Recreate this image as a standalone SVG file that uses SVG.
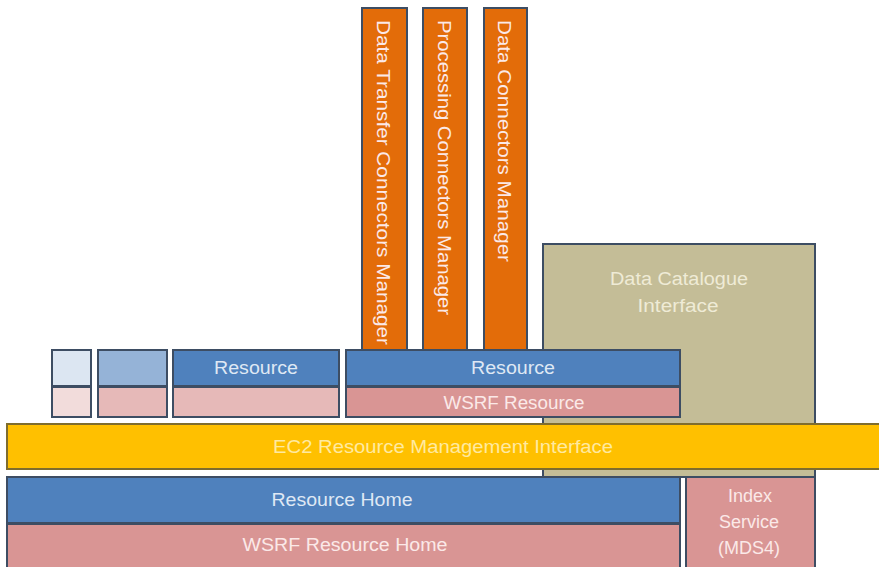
<svg xmlns="http://www.w3.org/2000/svg" width="879" height="567" viewBox="0 0 879 567">
<style>
.b{stroke:#3d4d63;stroke-width:2}
.t{font-family:"Liberation Sans",Arial,sans-serif;font-size:18px;fill:#dfe8f4;text-anchor:middle;dominant-baseline:central}
.v{text-anchor:start}
.ty{fill:#ffeaa0}
.tp{fill:#fbe9e8}
.tt{fill:#efebd6}
.orange{fill:#e36c09}
.blue{fill:#4f81bd}
.pink{fill:#d99594}
.lpink{fill:#e6b9b8}
</style>
<rect width="879" height="567" fill="#ffffff"/>
<g id="data-catalogue">
<rect class="b" x="543" y="244" width="272" height="233" fill="#c4bd97"/>
<text class="t tt" x="679" y="279" textLength="138" lengthAdjust="spacingAndGlyphs">Data Catalogue</text>
<text class="t tt" x="678" y="306" textLength="81" lengthAdjust="spacingAndGlyphs">Interface</text>
</g>
<g id="dt-connectors">
<rect class="b orange" x="362" y="8" width="45" height="342"/>
<text class="t tp v" transform="translate(383,20) rotate(90)" textLength="325" lengthAdjust="spacingAndGlyphs">Data Transfer Connectors Manager</text>
</g>
<g id="proc-connectors">
<rect class="b orange" x="423" y="8" width="44" height="342"/>
<text class="t tp v" transform="translate(444,20) rotate(90)" textLength="295" lengthAdjust="spacingAndGlyphs">Processing Connectors Manager</text>
</g>
<g id="data-connectors">
<rect class="b orange" x="484" y="8" width="43" height="342"/>
<text class="t tp v" transform="translate(504,20) rotate(90)" textLength="242" lengthAdjust="spacingAndGlyphs">Data Connectors Manager</text>
</g>
<g id="small-1">
<rect class="b" x="52" y="350" width="39" height="36" fill="#dce6f2"/>
<rect class="b" x="52" y="387" width="39" height="30" fill="#f2dcdb"/>
</g>
<g id="small-2">
<rect class="b" x="98" y="350" width="69" height="36" fill="#95b3d7"/>
<rect class="b lpink" x="98" y="387" width="69" height="30"/>
</g>
<g id="resource-left">
<rect class="b blue" x="173" y="350" width="166" height="36"/>
<rect class="b lpink" x="173" y="387" width="166" height="30"/>
<text class="t" x="256" y="368" textLength="84" lengthAdjust="spacingAndGlyphs">Resource</text>
</g>
<g id="resource-right">
<rect class="b blue" x="346" y="350" width="334" height="36"/>
<text class="t" x="513" y="368" textLength="84" lengthAdjust="spacingAndGlyphs">Resource</text>
<rect class="b pink" x="346" y="387" width="334" height="30"/>
<text class="t tp" x="514" y="403" textLength="141" lengthAdjust="spacingAndGlyphs">WSRF Resource</text>
</g>
<g id="ec2">
<rect x="7" y="424" width="880" height="45" fill="#ffc000" stroke="#7f6d2e" stroke-width="2"/>
<text class="t ty" x="443" y="447" textLength="340" lengthAdjust="spacingAndGlyphs">EC2 Resource Management Interface</text>
</g>
<g id="resource-home">
<rect class="b blue" x="7" y="477" width="673" height="46"/>
<text class="t" x="342" y="500" textLength="141" lengthAdjust="spacingAndGlyphs">Resource Home</text>
<rect class="b pink" x="7" y="524" width="673" height="44"/>
<text class="t tp" x="345" y="545" textLength="205" lengthAdjust="spacingAndGlyphs">WSRF Resource Home</text>
</g>
<g id="index-service">
<rect class="b pink" x="686" y="477" width="129" height="91"/>
<text class="t tp" x="750" y="496">Index</text>
<text class="t tp" x="749" y="522">Service</text>
<text class="t tp" x="749" y="548">(MDS4)</text>
</g>
<g id="connectors"/>
</svg>
